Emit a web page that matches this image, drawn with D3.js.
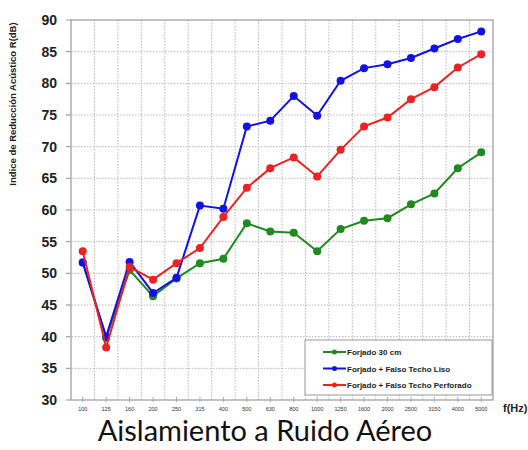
<!DOCTYPE html>
<html>
<head>
<meta charset="utf-8">
<script src="https://cdn.jsdelivr.net/npm/d3@7"></script>
<style>
  body { margin: 0; background: #fff; }
  svg { display: block; }
  .grid line { stroke: #b8b8b8; stroke-dasharray: 1.5 1.5; }
  .ylab { font: bold 14px "Liberation Sans", Arial, sans-serif; fill: #222; }
  .xlab { font: 5.5px "Liberation Sans", Arial, sans-serif; fill: #333; }
  .legend text { font: bold 8px "Liberation Sans", Arial, sans-serif; fill: #222; }
</style>
</head>
<body>
<div id="chart"></div>
<script>
const freqs = ['100', '125', '160', '200', '250', '315', '400', '500', '630', '800',
  '1000', '1250', '1600', '2000', '2500', '3150', '4000', '5000'];
const yTicks = [30, 35, 40, 45, 50, 55, 60, 65, 70, 75, 80, 85, 90];

const forjado = [51.7, 39.8, 50.5, 46.4, 49.2, 51.6, 52.3, 57.9, 56.6, 56.4,
  53.5, 57.0, 58.3, 58.7, 60.9, 62.6, 66.6, 69.1];
const techoLiso = [51.7, 40.0, 51.8, 46.9, 49.3, 60.7, 60.2, 73.2, 74.1, 78.0,
  74.9, 80.4, 82.4, 83.0, 84.0, 85.5, 87.0, 88.2];
const techoPerforado = [53.5, 38.3, 51.0, 49.0, 51.6, 54.0, 58.9, 63.5, 66.6, 68.3,
  65.3, 69.5, 73.2, 74.6, 77.5, 79.4, 82.5, 84.6];

const seriesNames = ['Forjado 30 cm', 'Forjado + Falso Techo Liso', 'Forjado + Falso Techo Perforado'];
const seriesColors = ['#1f8a1f', '#1212e6', '#ee2222'];

const W = 528, H = 450;
const plot = {left: 71, right: 493, top: 20, bottom: 400};

let svg = d3.select('#chart').append('svg')
  .attr('width', W)
  .attr('height', H);

let x = d3.scaleBand()
  .domain(freqs)
  .range([plot.left, plot.right]);

let y = d3.scaleLinear()
  .domain([30, 90])
  .range([plot.bottom, plot.top]);

let cx = f => x(f) + x.bandwidth() / 2;

// grid
let grid = svg.append('g').classed('grid', true);
grid.selectAll('line.h').data(yTicks.slice(1, -1)).enter().append('line')
  .attr('x1', plot.left - 5).attr('x2', plot.right)
  .attr('y1', d => y(d)).attr('y2', d => y(d));
grid.selectAll('line.v').data(freqs.slice(1)).enter().append('line')
  .attr('x1', d => x(d)).attr('x2', d => x(d))
  .attr('y1', plot.top).attr('y2', plot.bottom);

// frame
svg.append('rect')
  .attr('x', plot.left).attr('y', plot.top)
  .attr('width', plot.right - plot.left).attr('height', plot.bottom - plot.top)
  .attr('fill', 'none').attr('stroke', '#999').attr('stroke-width', 1.2);

// ticks
svg.append('g').selectAll('line').data(yTicks).enter().append('line')
  .attr('x1', plot.left - 5).attr('x2', plot.left)
  .attr('y1', d => y(d)).attr('y2', d => y(d))
  .attr('stroke', '#999');
svg.append('g').selectAll('line').data(freqs).enter().append('line')
  .attr('x1', d => cx(d)).attr('x2', d => cx(d))
  .attr('y1', plot.bottom - 3).attr('y2', plot.bottom + 2)
  .attr('stroke', '#aaa');

// axis labels
svg.append('g').selectAll('text').data(yTicks).enter().append('text')
  .classed('ylab', true)
  .attr('x', 57).attr('y', d => y(d) + 5)
  .attr('text-anchor', 'end')
  .text(d => d);

svg.append('g').selectAll('text').data(freqs).enter().append('text')
  .classed('xlab', true)
  .attr('x', d => cx(d)).attr('y', 411)
  .attr('text-anchor', 'middle')
  .text(d => d);

svg.append('text')
  .attr('x', 503).attr('y', 412)
  .style('font', 'bold 11px "Liberation Sans", Arial, sans-serif')
  .attr('fill', '#222')
  .text('f(Hz)');

svg.append('text')
  .attr('transform', 'translate(16, 104) rotate(-90)')
  .attr('text-anchor', 'middle')
  .style('font', 'bold 9.5px "Liberation Sans", Arial, sans-serif')
  .attr('fill', '#222')
  .text('Indice de Reducción Acústico R(dB)');

svg.append('text')
  .attr('x', 265).attr('y', 441)
  .attr('text-anchor', 'middle')
  .style('font', '29px Lato, "Open Sans", sans-serif')
  .attr('fill', '#111')
  .text('Aislamiento a Ruido Aéreo');

// series
let allSeries = [forjado, techoLiso, techoPerforado];
let line = d3.line()
  .x((d, i) => cx(freqs[i]))
  .y(d => y(d));

allSeries.forEach((values, k) => {
  let g = svg.append('g');
  g.append('path')
    .datum(values)
    .attr('d', line)
    .attr('fill', 'none')
    .attr('stroke', seriesColors[k])
    .attr('stroke-width', 2);
  g.selectAll('circle').data(values).enter().append('circle')
    .attr('cx', (d, i) => cx(freqs[i]))
    .attr('cy', d => y(d))
    .attr('r', 4)
    .attr('fill', seriesColors[k]);
});

// legend
let legend = svg.append('g').classed('legend', true)
  .attr('transform', 'translate(305, 340)');
legend.append('rect')
  .attr('width', 187).attr('height', 55)
  .attr('fill', '#fff').attr('stroke', '#999');
let rows = legend.selectAll('g.row').data(seriesNames).enter().append('g')
  .classed('row', true)
  .attr('transform', (d, i) => `translate(18, ${12 + i * 16.5})`);
rows.append('line')
  .attr('x1', 0).attr('x2', 23)
  .attr('stroke', (d, i) => seriesColors[i]).attr('stroke-width', 2);
rows.append('circle')
  .attr('cx', 11.5).attr('r', 2.5)
  .attr('fill', (d, i) => seriesColors[i]);
rows.append('text')
  .attr('x', 24).attr('y', 3)
  .text(d => d);
</script>
</body>
</html>
